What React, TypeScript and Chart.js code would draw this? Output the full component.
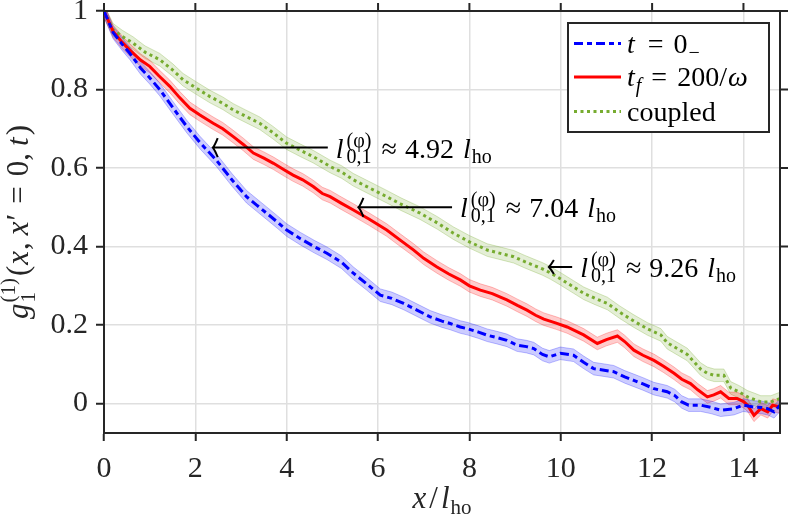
import React, { useEffect, useRef } from 'react';
import Chart from 'chart.js/auto';

// axis ticks
const xTicks = [0, 2, 4, 6, 8, 10, 12, 14];
const xTickLabels = ['0', '2', '4', '6', '8', '10', '12', '14'];
const yTicks = [0, 0.2, 0.4, 0.6, 0.8, 1];
const yTickLabels = ['0', '0.2', '0.4', '0.6', '0.8', '1'];

// t = 0_
const blueX = [0, 0.2, 0.4, 0.56, 0.8, 1.0, 1.22, 1.5, 1.81, 2.1, 2.46, 2.8, 3.12, 3.35, 3.56, 3.8, 4.0, 4.3, 4.6, 4.88, 5.2, 5.46, 5.75, 6.05, 6.3, 6.56, 6.85, 7.14, 7.4, 7.58, 7.8, 7.95, 8.2, 8.39, 8.6, 8.82, 9.04, 9.25, 9.41, 9.6, 9.75, 9.99, 10.28, 10.5, 10.72, 10.95, 11.16, 11.4, 11.6, 11.8, 12.04, 12.33, 12.5, 12.65, 12.8, 13.06, 13.3, 13.5, 13.65, 13.79, 14.0, 14.23, 14.4, 14.53, 14.67, 14.8];
const blueY = [1, 0.945, 0.915, 0.893, 0.855, 0.83, 0.8, 0.755, 0.706, 0.665, 0.62, 0.57, 0.527, 0.505, 0.485, 0.462, 0.442, 0.42, 0.4, 0.383, 0.36, 0.332, 0.305, 0.276, 0.268, 0.255, 0.238, 0.221, 0.21, 0.204, 0.195, 0.191, 0.182, 0.174, 0.168, 0.161, 0.149, 0.145, 0.14, 0.125, 0.119, 0.128, 0.123, 0.105, 0.089, 0.085, 0.081, 0.068, 0.059, 0.05, 0.038, 0.03, 0.02, 0.004, -0.004, -0.004, -0.01, -0.017, -0.015, -0.013, -0.004, -0.009, -0.01, -0.013, -0.021, -0.004];

// t_f = 200/omega
const redX = [0, 0.2, 0.4, 0.56, 0.8, 1.0, 1.2, 1.44, 1.65, 1.88, 2.1, 2.39, 2.6, 2.83, 3.05, 3.27, 3.5, 3.71, 3.95, 4.14, 4.35, 4.58, 4.78, 4.95, 5.2, 5.46, 5.8, 6.19, 6.5, 6.78, 7.0, 7.29, 7.55, 7.8, 8.0, 8.24, 8.5, 8.82, 9.05, 9.26, 9.45, 9.63, 9.9, 10.14, 10.5, 10.8, 11.0, 11.24, 11.4, 11.6, 11.8, 12.04, 12.25, 12.48, 12.65, 12.84, 13.0, 13.21, 13.35, 13.5, 13.68, 13.86, 14.0, 14.09, 14.23, 14.38, 14.53, 14.64, 14.8];
const redY = [1, 0.948, 0.92, 0.901, 0.875, 0.859, 0.835, 0.808, 0.78, 0.752, 0.735, 0.714, 0.7, 0.68, 0.66, 0.638, 0.625, 0.612, 0.595, 0.582, 0.57, 0.553, 0.535, 0.527, 0.51, 0.493, 0.47, 0.442, 0.415, 0.391, 0.37, 0.348, 0.33, 0.315, 0.3, 0.289, 0.28, 0.264, 0.25, 0.238, 0.225, 0.215, 0.205, 0.195, 0.175, 0.153, 0.163, 0.172, 0.158, 0.136, 0.123, 0.11, 0.095, 0.077, 0.062, 0.051, 0.035, 0.017, 0.022, 0.03, 0.013, 0.013, 0.005, -0.004, -0.03, -0.013, -0.021, -0.004, -0.009];

// coupled
const greenX = [0, 0.2, 0.4, 0.64, 0.9, 1.22, 1.5, 1.73, 2.0, 2.32, 2.6, 2.83, 3.1, 3.41, 3.7, 4.0, 4.3, 4.58, 4.95, 5.2, 5.46, 5.8, 6.19, 6.5, 6.92, 7.3, 7.65, 8.0, 8.39, 8.7, 8.97, 9.2, 9.41, 9.6, 9.77, 9.99, 10.28, 10.5, 10.75, 11.02, 11.3, 11.6, 11.9, 12.19, 12.33, 12.55, 12.77, 13.06, 13.21, 13.36, 13.57, 13.72, 13.9, 14.09, 14.25, 14.38, 14.6, 14.8];
const greenY = [1, 0.952, 0.935, 0.918, 0.895, 0.876, 0.85, 0.825, 0.805, 0.782, 0.765, 0.748, 0.732, 0.714, 0.69, 0.663, 0.645, 0.629, 0.604, 0.59, 0.57, 0.55, 0.527, 0.508, 0.485, 0.46, 0.434, 0.412, 0.391, 0.382, 0.374, 0.362, 0.352, 0.343, 0.333, 0.318, 0.297, 0.281, 0.268, 0.255, 0.232, 0.21, 0.19, 0.175, 0.155, 0.14, 0.125, 0.088, 0.077, 0.072, 0.072, 0.04, 0.03, 0.017, 0.01, 0.004, 0.004, 0.013];

const bandHalfWidth = 0.016;

// arrows: tip and tail in data units, with the length value written next to the tail
const arrowTipX = [2.38, 5.57, 9.74];
const arrowTailX = [4.9, 7.62, 10.25];
const arrowY = [0.652, 0.5, 0.348];
const arrowValues = ['4.92', '7.04', '9.26'];

const SERIF = '"Liberation Serif"';
const AXIS = '#262626';

type Run = { t: string; it?: boolean; size?: number; rise?: number; gap?: number; stack?: boolean };

const runFont = (r: Run, base: number) => `${r.it ? 'italic ' : ''}${r.size ?? base}px ${SERIF}`;

function measureRuns(ctx: CanvasRenderingContext2D, runs: Run[], base: number) {
  let w = 0;
  let held = 0;
  for (const r of runs) {
    ctx.font = runFont(r, base);
    const rw = ctx.measureText(r.t).width + (r.gap ?? 0);
    if (r.stack) { held = rw; continue; }
    w += Math.max(rw, held);
    held = 0;
  }
  return w;
}

function drawRuns(ctx: CanvasRenderingContext2D, runs: Run[], x: number, y: number, base: number) {
  let cx = x;
  let held = 0;
  for (const r of runs) {
    ctx.font = runFont(r, base);
    const g = r.gap ?? 0;
    ctx.fillText(r.t, cx + g, y - (r.rise ?? 0));
    const rw = ctx.measureText(r.t).width + g;
    if (r.stack) { held = rw; continue; }
    cx += Math.max(rw, held);
    held = 0;
  }
  return cx;
}

const toPoints = (xs: number[], ys: number[]) => xs.map((x, i) => ({ x, y: ys[i] }));

function bandSets(xs: number[], ys: number[], fill: string, edge: string) {
  const common = { borderColor: edge, borderWidth: 1, pointRadius: 0, tension: 0, order: 2 };
  return [
    { ...common, label: '', data: toPoints(xs, ys.map((v) => v + bandHalfWidth)), backgroundColor: fill, fill: '+1' },
    { ...common, label: '', data: toPoints(xs, ys.map((v) => v - bandHalfWidth)), fill: false },
  ];
}

const legendRuns: Run[][] = [
  [{ t: 't', it: true }, { t: '=', gap: 13 }, { t: '0', gap: 10 }, { t: '\u2212', size: 20, rise: -6, gap: 1 }],
  [{ t: 't', it: true }, { t: 'f', it: true, size: 20, rise: -6, gap: 1 }, { t: '=', gap: 10 }, { t: '200/', gap: 10 }, { t: 'ω', it: true, gap: 1 }],
  [{ t: 'coupled' }],
];

const decorPlugin = {
  id: 'decor',
  afterDraw(chart: any) {
    const { ctx, chartArea: a, scales } = chart;
    const xs = scales.x;
    const ys = scales.y;
    ctx.save();

    // box: top and right edges with outward ticks
    ctx.strokeStyle = AXIS;
    ctx.lineWidth = 2;
    ctx.beginPath();
    ctx.moveTo(a.left - 1, a.top);
    ctx.lineTo(a.right, a.top);
    ctx.lineTo(a.right, a.bottom + 1);
    for (const v of xTicks) {
      const px = xs.getPixelForValue(v);
      ctx.moveTo(px, a.top);
      ctx.lineTo(px, a.top - 8);
    }
    for (const v of yTicks) {
      const py = ys.getPixelForValue(v);
      ctx.moveTo(a.right, py);
      ctx.lineTo(a.right + 8, py);
    }
    ctx.stroke();

    // arrows with labels
    ctx.strokeStyle = '#000';
    ctx.fillStyle = '#000';
    ctx.lineWidth = 2;
    arrowValues.forEach((val, i) => {
      const tip = xs.getPixelForValue(arrowTipX[i]);
      const tail = xs.getPixelForValue(arrowTailX[i]);
      const py = ys.getPixelForValue(arrowY[i]);
      const arm = i === 2 ? 7 : 9.5;
      ctx.beginPath();
      ctx.moveTo(tail, py);
      ctx.lineTo(tip, py);
      ctx.moveTo(tip + 5, py - arm);
      ctx.quadraticCurveTo(tip + 2, py - 2, tip, py);
      ctx.quadraticCurveTo(tip + 2, py + 2, tip + 5, py + arm);
      ctx.stroke();
      drawRuns(ctx, [
        { t: 'l', it: true },
        { t: '(φ)', size: 20, rise: 11, gap: 3, stack: true },
        { t: '0,1', size: 20, rise: -5, gap: 3 },
        { t: '≈', gap: 10 },
        { t: val, gap: 8 },
        { t: 'l', it: true, gap: 9 },
        { t: 'ho', size: 20, rise: -5, gap: 1 },
      ], tail + 8, py + 10, 28);
    });

    // legend
    const lx0 = 568, ly0 = 23, lx1 = 769, ly1 = 132;
    ctx.fillStyle = '#fff';
    ctx.fillRect(lx0, ly0, lx1 - lx0, ly1 - ly0);
    ctx.strokeStyle = AXIS;
    ctx.lineWidth = 2;
    ctx.strokeRect(lx0, ly0, lx1 - lx0, ly1 - ly0);
    const rows = [43.5, 77, 111.5];
    for (let i = 0; i < 3; i++) {
      const ds = chart.data.datasets[i];
      ctx.save();
      ctx.strokeStyle = ds.borderColor;
      ctx.lineWidth = ds.borderWidth;
      ctx.setLineDash(ds.borderDash || []);
      ctx.beginPath();
      ctx.moveTo(574, rows[i]);
      ctx.lineTo(621, rows[i]);
      ctx.stroke();
      ctx.restore();
      ctx.fillStyle = '#000';
      drawRuns(ctx, legendRuns[i], 627, rows[i] + 9, 28);
    }

    // axis titles
    ctx.fillStyle = AXIS;
    const xRuns: Run[] = [{ t: 'x', it: true }, { t: '/', gap: 3 }, { t: 'l', it: true, gap: 3 }, { t: 'ho', size: 21, rise: -6, gap: 1 }];
    const xw = measureRuns(ctx, xRuns, 31);
    drawRuns(ctx, xRuns, (a.left + a.right) / 2 - xw / 2, 508, 31);

    const yRuns: Run[] = [
      { t: 'g', it: true },
      { t: '(1)', size: 21, rise: 13, gap: 1, stack: true },
      { t: '1', size: 21, rise: -7, gap: 1 },
      { t: '(', gap: 2 },
      { t: 'x', it: true, gap: 1 },
      { t: ',', gap: 1 },
      { t: 'x', it: true, gap: 7 },
      { t: '′', gap: 1 },
      { t: '=', gap: 10 },
      { t: '0', gap: 10 },
      { t: ',' },
      { t: 't', it: true, gap: 7 },
      { t: ')', gap: 2 },
    ];
    const yw = measureRuns(ctx, yRuns, 31);
    ctx.translate(28, (a.top + a.bottom) / 2);
    ctx.rotate(-Math.PI / 2);
    drawRuns(ctx, yRuns, -yw / 2, 0, 31);

    ctx.restore();
  },
};

const App: React.FC = () => {
  const canvasRef = useRef<HTMLCanvasElement>(null);
  const chartRef = useRef<Chart | null>(null);

  useEffect(() => {
    if (!canvasRef.current) return;
    if (chartRef.current) chartRef.current.destroy();

    const line = { pointRadius: 0, tension: 0, fill: false, order: 1, borderWidth: 3 };
    const datasets: any[] = [
      { ...line, label: 't = 0_', data: toPoints(blueX, blueY), borderColor: '#0000ff', borderDash: [9, 4, 5, 4] },
      { ...line, label: 't_f = 200/ω', data: toPoints(redX, redY), borderColor: '#ff0000' },
      { ...line, label: 'coupled', data: toPoints(greenX, greenY), borderColor: '#77ac30', borderDash: [3, 3.5] },
      ...bandSets(blueX, blueY, 'rgba(0,0,255,0.2)', 'rgba(0,0,255,0.25)'),
      ...bandSets(redX, redY, 'rgba(255,0,0,0.2)', 'rgba(255,0,0,0.25)'),
      ...bandSets(greenX, greenY, 'rgba(119,172,48,0.2)', 'rgba(119,172,48,0.3)'),
    ];

    chartRef.current = new Chart(canvasRef.current, {
      type: 'line',
      data: { datasets },
      options: {
        animation: false,
        responsive: true,
        maintainAspectRatio: false,
        events: [],
        layout: { padding: { top: 11, right: 9, left: 0, bottom: 0 } },
        plugins: { legend: { display: false }, tooltip: { enabled: false } },
        scales: {
          x: {
            type: 'linear',
            min: 0,
            max: 14.8,
            afterBuildTicks: (s: any) => { s.ticks = xTicks.map((v) => ({ value: v })); },
            afterFit: (s: any) => {
              s.height = 88;
              s.paddingLeft = 0; s.paddingRight = 0; s.paddingTop = 0; s.paddingBottom = 0;
            },
            ticks: {
              callback: (_v: any, i: number) => xTickLabels[i],
              font: { family: SERIF, size: 30 },
              color: AXIS,
              padding: 10,
              maxRotation: 0,
            },
            grid: { color: '#dfdfdf', lineWidth: 1.5, tickColor: AXIS, tickLength: 8, tickWidth: 2 },
            border: { color: AXIS, width: 2 },
          },
          y: {
            type: 'linear',
            min: -0.075,
            max: 1,
            afterBuildTicks: (s: any) => { s.ticks = yTicks.map((v) => ({ value: v })); },
            afterFit: (s: any) => {
              s.width = 104;
              s.paddingLeft = 0; s.paddingRight = 0; s.paddingTop = 0; s.paddingBottom = 0;
            },
            ticks: {
              callback: (_v: any, i: number) => yTickLabels[i],
              font: { family: SERIF, size: 30 },
              color: AXIS,
              padding: 8,
            },
            grid: { color: '#dfdfdf', lineWidth: 1.5, tickColor: AXIS, tickLength: 8, tickWidth: 2 },
            border: { color: AXIS, width: 2 },
          },
        },
      },
      plugins: [decorPlugin],
    });

    return () => {
      if (chartRef.current) {
        chartRef.current.destroy();
        chartRef.current = null;
      }
    };
  }, []);

  return (
    <div style={{ position: 'absolute', left: 0, top: 0, width: 789, height: 521, background: '#fff' }}>
      <canvas ref={canvasRef} />
    </div>
  );
};

export default App;
